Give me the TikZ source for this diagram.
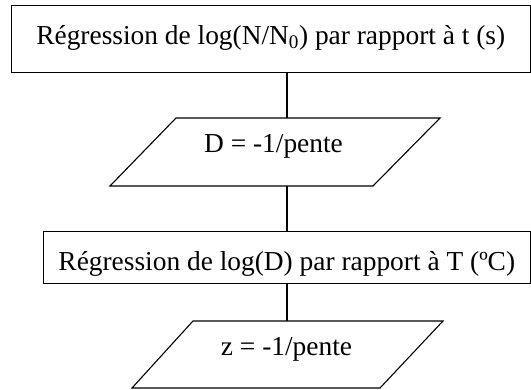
\documentclass[tikz,border=0pt]{standalone}
\usepackage{fontspec}
\setmainfont{Liberation Serif}
\begin{document}
\begin{tikzpicture}[x=1pt,y=-1pt,
  every node/.style={font=\fontsize{27.4}{32}\selectfont},
  line/.style={line width=1.1pt},
  procbox/.style={draw,line width=1.1pt,inner sep=0pt,anchor=north west,text height=39pt},
  label/.style={anchor=base,inner sep=0pt}]
\useasboundingbox (0,0) rectangle (531,390);
% boxes
\node[procbox,minimum width=518.5pt,text depth=28pt] (b1) at (11,5)
  {Régression de log(N/N\textsubscript{0}) par rapport à t (s)};
\node[procbox,minimum width=486.5pt,text depth=13pt] (b2) at (43,231)
  {Régression de log(D) par rapport à T (ºC)};
% parallelogram 1
\coordinate (p1a) at (176,118);
\coordinate (p1b) at (440,118);
\coordinate (p1c) at (373,186);
\coordinate (p1d) at (110,186);
\coordinate (p1top) at (287,118);
\coordinate (p1bot) at (287,186);
\draw[line,line join=miter] (p1a) -- (p1b) -- (p1c) -- (p1d) -- cycle;
\node[label] (t1) at (273.5,153) {D = -1/pente};
% parallelogram 2
\coordinate (p2a) at (193,321);
\coordinate (p2b) at (443,321);
\coordinate (p2c) at (380,388);
\coordinate (p2d) at (132,388);
\coordinate (p2top) at (287,321);
\draw[line,line join=miter] (p2a) -- (p2b) -- (p2c) -- (p2d) -- cycle;
\node[label] (t2) at (286.5,356) {z = -1/pente};
% connectors
\draw[line] (b1.south -| p1top) -- (p1top);
\draw[line] (p1bot) -- (b2.north -| p1bot);
\draw[line] (b2.south -| p2top) -- (p2top);
\end{tikzpicture}
\end{document}
